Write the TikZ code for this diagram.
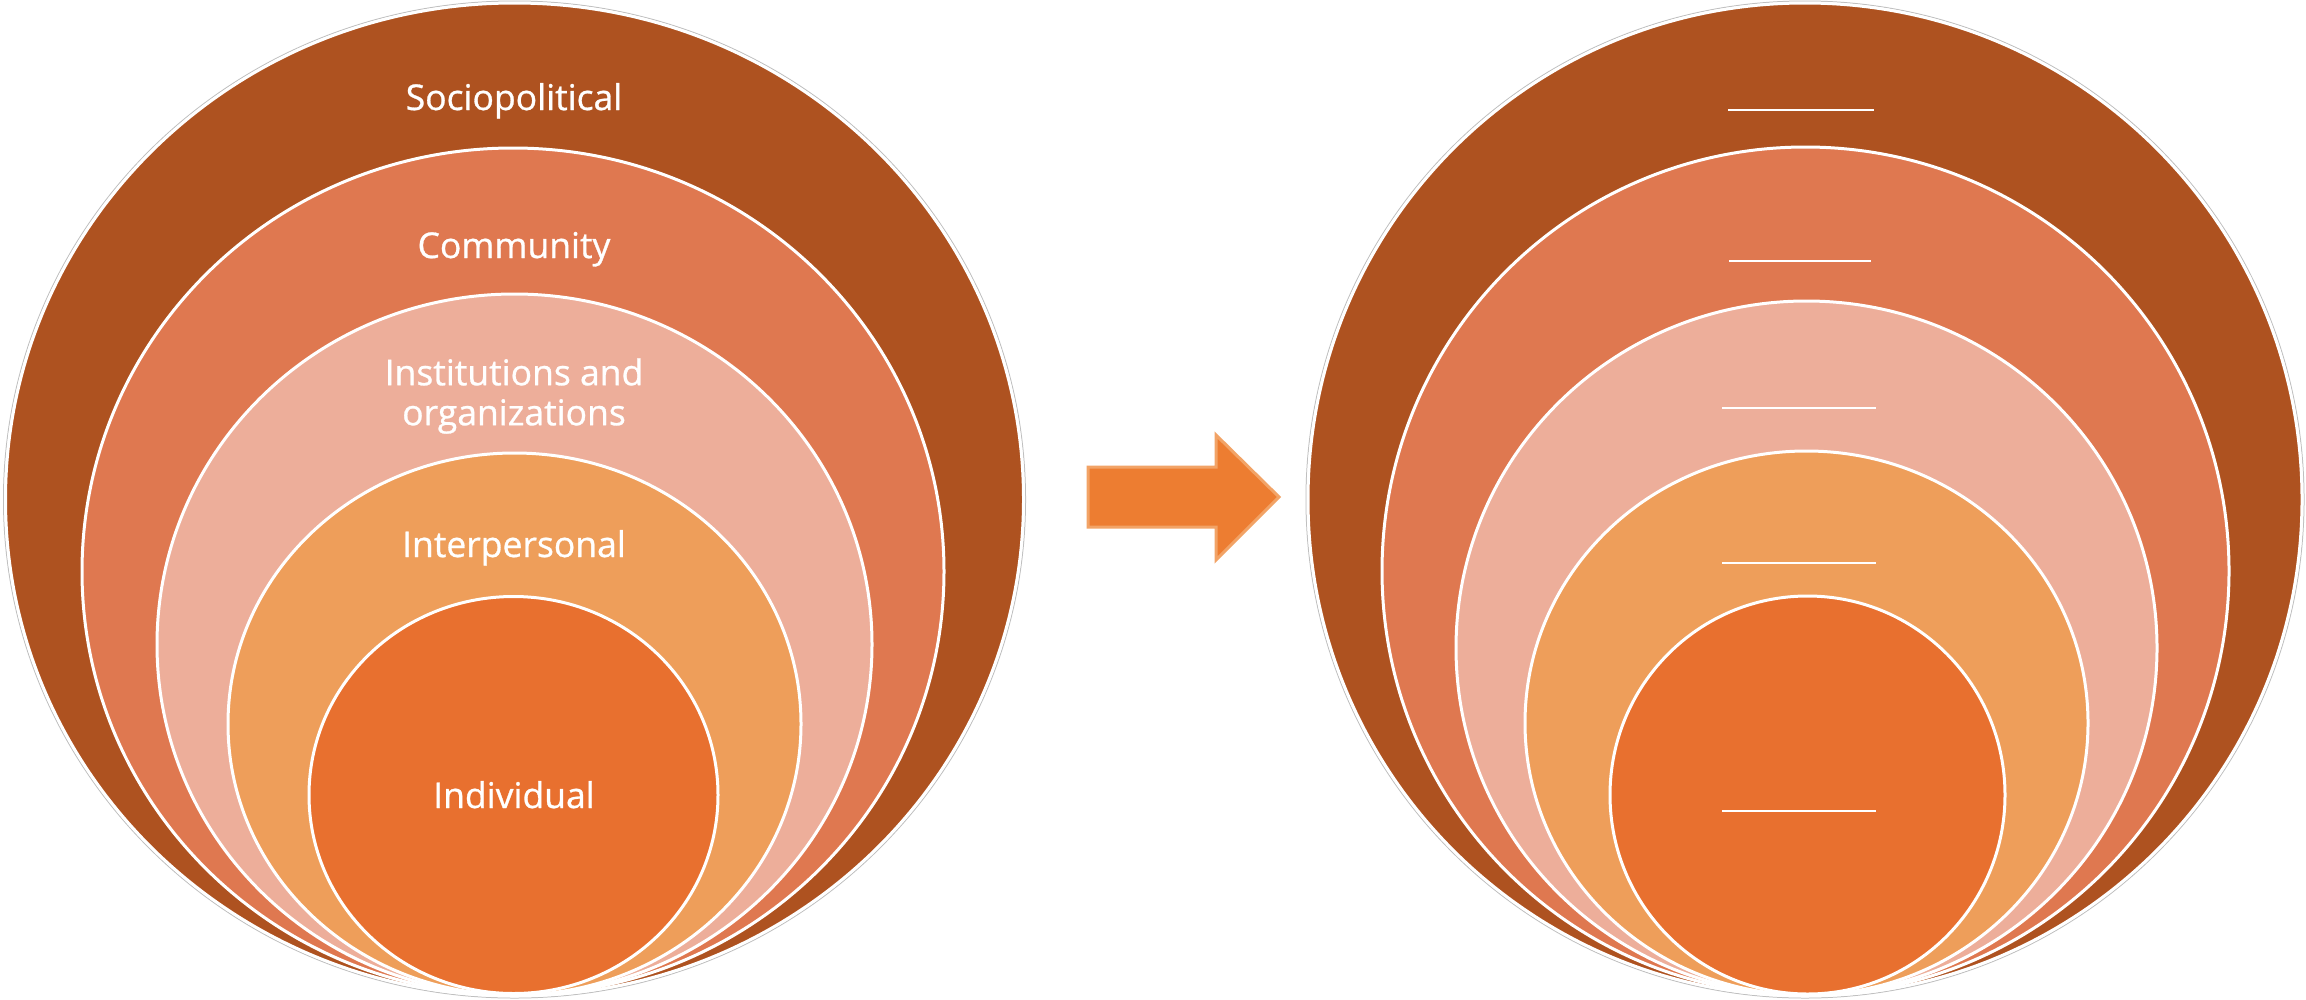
\documentclass[tikz,border=0pt]{standalone}
\usepackage{fontspec}
\setmainfont{Open Sans}
\definecolor{socio}{HTML}{AE5220}
\definecolor{commu}{HTML}{DF7850}
\definecolor{instit}{HTML}{EDAE9A}
\definecolor{inter}{HTML}{EE9E5A}
\definecolor{indiv}{HTML}{E8702F}
\definecolor{arrowfill}{HTML}{ED7D31}
\definecolor{arrowline}{HTML}{F2A366}
\begin{document}
\begin{tikzpicture}[x=1pt,y=-1pt,
  layer/.style={draw=white, line width=3pt},
  rim/.style={draw=black!25, line width=1pt},
  lbl/.style={text=white, font=\fontsize{35.5}{40}\selectfont\addfontfeature{FakeBold=0.8}, inner sep=0pt, align=center},
  blank/.style={inner sep=0pt}]
\useasboundingbox (0,0) rectangle (2306,999);
\fill[white] (0,0) rectangle (2306,999);
% ---------- left diagram ----------
\path[rim] (514.5,499.5) ellipse [x radius=511pt, y radius=498.5pt];
\path[layer, fill=socio]  (514.5,499.5) ellipse [x radius=509pt, y radius=496.5pt];
\path[layer, fill=commu]  (513,571.5)   ellipse [x radius=431pt, y radius=423.5pt];
\path[layer, fill=instit] (514.5,644.5) ellipse [x radius=357.5pt, y radius=350.5pt];
\path[layer, fill=inter]  (514.5,724)   ellipse [x radius=286.5pt, y radius=271pt];
\path[layer, fill=indiv]  (513.5,795)   ellipse [x radius=204.5pt, y radius=198.5pt];
\node[lbl, anchor=base] (socio) at (514,110) {Sociopolitical};
\node[lbl, anchor=base] (commu) at (514,258) {Community};
\node[lbl] (instit) at (514,396) {Institutions and\\organizations};
\node[lbl, anchor=base] (inter) at (514,557) {Interpersonal};
\node[lbl, anchor=base] (indiv) at (514,808) {Individual};
% ---------- arrow ----------
\path[fill=arrowfill, draw=arrowline, line width=3pt, line join=miter]
  (1088,467) -- (1216,467) -- (1216,435) -- (1279,497) -- (1216,560)
  -- (1216,527) -- (1088,527) -- cycle;
% ---------- right diagram ----------
\path[rim] (1805,499.5) ellipse [x radius=499pt, y radius=498.5pt];
\path[layer, fill=socio]  (1805,499.5) ellipse [x radius=497pt, y radius=496.5pt];
\path[layer, fill=commu]  (1805.5,571) ellipse [x radius=423.5pt, y radius=424pt];
\path[layer, fill=instit] (1806.5,648) ellipse [x radius=350.5pt, y radius=347pt];
\path[layer, fill=inter]  (1806.5,723) ellipse [x radius=281.5pt, y radius=272pt];
\path[layer, fill=indiv]  (1807.5,795) ellipse [x radius=197.5pt, y radius=199pt];
\node[blank] (b1) at (1801,110) {\color{white}\rule{146pt}{2pt}};
\node[blank] (b2) at (1800,261) {\color{white}\rule{142pt}{2pt}};
\node[blank] (b3) at (1799,408) {\color{white}\rule{154pt}{2pt}};
\node[blank] (b4) at (1799,563) {\color{white}\rule{154pt}{2pt}};
\node[blank] (b5) at (1799,811) {\color{white}\rule{154pt}{2pt}};
\end{tikzpicture}
\end{document}
